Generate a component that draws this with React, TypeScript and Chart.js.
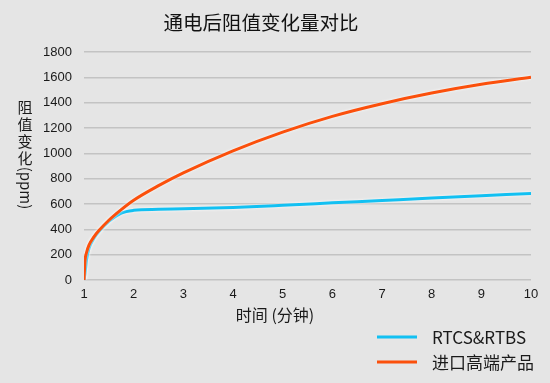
import React, { useEffect, useRef } from "react";
import { Chart, registerables } from "chart.js";

Chart.register(...registerables);

const chartTitle = "通电后阻值变化量对比";
const yTitleChars = ["阻", "值", "变", "化"];
const yTitleUnit = "(ppm)";
const xTitle = "时间 (分钟)";

const timePoints = [1, 1.02, 1.05, 1.1, 1.2, 1.3, 1.5, 1.75, 2, 2.5, 3, 4, 5, 6, 7, 8, 9, 10];
const rtcsValues = [0, 50, 160, 250, 330, 382, 462, 528, 550, 558, 562, 573, 590, 609, 628, 647, 665, 683];
const importValues = [0, 150, 215, 275, 340, 390, 472, 556, 630, 745, 846, 1020, 1168, 1292, 1392, 1476, 1545, 1600];

const seriesNames = ["RTCS&RTBS", "进口高端产品"];
const seriesColors = ["#12c0f2", "#fb500c"];

const yMin = 0;
const yMax = 1800;
const yStep = 200;
const xMin = 1;
const xMax = 10;

const CJK = '"Noto Sans CJK SC", "Noto Sans", sans-serif';
const LATIN = '"Liberation Sans", Arial, sans-serif';

const decorPlugin = {
  id: "decor",
  beforeDatasetsDraw(chart: any) {
    const ctx = chart.ctx;
    ctx.save();
    ctx.shadowColor = "rgba(255,255,255,0.95)";
    ctx.shadowBlur = 3;
  },
  afterDatasetsDraw(chart: any) {
    chart.ctx.restore();
  },
  afterDraw(chart: any) {
    const ctx = chart.ctx;
    ctx.save();
    ctx.fillStyle = "#111";
    ctx.textAlign = "center";
    ctx.textBaseline = "middle";
    ctx.font = `19.5px ${CJK}`;
    ctx.fillText(chartTitle, 261, 23);

    // Y axis title: stacked upright CJK chars, then rotated unit
    ctx.fillStyle = "#1a1a1a";
    ctx.font = `15px ${CJK}`;
    yTitleChars.forEach((c, i) => {
      ctx.fillText(c, 25, 107 + i * 17);
    });
    ctx.save();
    ctx.translate(26, 188);
    ctx.rotate(Math.PI / 2);
    ctx.font = `15px ${CJK}`;
    ctx.fillText(yTitleUnit, 0, 0);
    ctx.restore();

    // X axis title
    ctx.font = `16px ${CJK}`;
    ctx.fillText(xTitle, 275, 315);

    // Legend
    ctx.textAlign = "left";
    ctx.font = `17px ${CJK}`;
    seriesNames.forEach((name, i) => {
      const y = 337 + i * 25;
      ctx.strokeStyle = seriesColors[i];
      ctx.lineWidth = 3;
      ctx.beginPath();
      ctx.moveTo(377, y);
      ctx.lineTo(417, y);
      ctx.stroke();
      ctx.fillStyle = "#1a1a1a";
      ctx.fillText(name, 432, y + 1);
    });
    ctx.restore();
  },
};

export default function App() {
  const ref = useRef<HTMLCanvasElement>(null);

  useEffect(() => {
    if (!ref.current) return;
    const chart = new Chart(ref.current, {
      type: "line",
      data: {
        labels: timePoints,
        datasets: [
          {
            label: seriesNames[1],
            data: timePoints.map((t, i) => ({ x: t, y: importValues[i] })),
            borderColor: seriesColors[1],
            borderWidth: 3,
            pointRadius: 0,
            fill: false,
            cubicInterpolationMode: "monotone",
          },
          {
            label: seriesNames[0],
            data: timePoints.map((t, i) => ({ x: t, y: rtcsValues[i] })),
            borderColor: seriesColors[0],
            borderWidth: 3,
            pointRadius: 0,
            fill: false,
            cubicInterpolationMode: "monotone",
          },
        ],
      },
      options: {
        animation: false,
        responsive: false,
        layout: { padding: { top: 52, right: 19, left: 0, bottom: 0 } },
        plugins: {
          legend: { display: false },
          title: { display: false },
          tooltip: { enabled: false },
        },
        scales: {
          x: {
            type: "linear",
            min: xMin,
            max: xMax,
            grid: { display: false, drawTicks: false },
            border: { display: false },
            ticks: {
              stepSize: 1,
              padding: 7,
              color: "#1a1a1a",
              font: { family: LATIN, size: 13 },
              callback: (v: any) => String(v),
            },
            afterFit: (s: any) => {
              s.height = 103;
            },
          },
          y: {
            min: yMin,
            max: yMax,
            grid: { color: "#c3c3c3", lineWidth: 1.5, drawTicks: false },
            border: { display: false },
            ticks: {
              stepSize: yStep,
              padding: 12,
              color: "#1a1a1a",
              font: { family: LATIN, size: 13 },
              callback: (v: any) => String(v),
            },
            afterFit: (s: any) => {
              s.width = 84;
            },
          },
        },
      },
      plugins: [decorPlugin],
    });
    return () => chart.destroy();
  }, []);

  return (
    <div style={{ position: "fixed", left: 0, top: 0, width: 550, height: 383, background: "#e5e5e5" }}>
      <canvas ref={ref} width={550} height={383} style={{ width: 550, height: 383, display: "block" }} />
    </div>
  );
}
